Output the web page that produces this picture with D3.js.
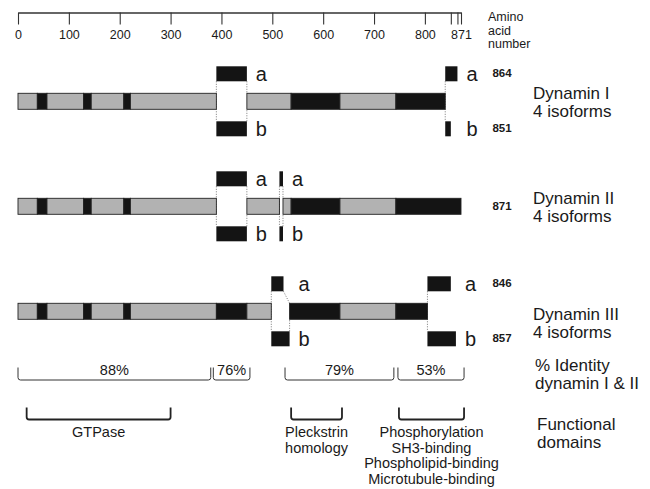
<!DOCTYPE html>
<html>
<head>
<meta charset="utf-8">
<script src="https://cdn.jsdelivr.net/npm/d3@7"></script>
<style>
body { margin: 0; background: #fff; }
svg { display: block; font-family: "Liberation Sans", Arial, Helvetica, sans-serif; }
</style>
</head>
<body>
<script>
// amino acid axis
var axisTicks = [0, 100, 200, 300, 400, 500, 600, 700, 800, 851, 864, 871];
var axisLabels = ['0', '100', '200', '300', '400', '500', '600', '700', '800', '', '', '871'];

var rowNames = ['Dynamin I', 'Dynamin II', 'Dynamin III'];
var rowSubtitles = ['4 isoforms', '4 isoforms', '4 isoforms'];

// [start, end, shade]  shade 0 = light, 1 = dark
var dyn1Segments = [[0, 38, 0], [38, 57, 1], [57, 129, 0], [129, 144, 1], [144, 208, 0], [208, 221, 1], [221, 390, 0],
	[450, 537, 0], [537, 633, 1], [633, 743, 0], [743, 840, 1]];
var dyn2Segments = [[0, 38, 0], [38, 57, 1], [57, 129, 0], [129, 144, 1], [144, 208, 0], [208, 221, 1], [221, 390, 0],
	[450, 514, 0], [521, 537, 0], [537, 633, 1], [633, 743, 0], [743, 871, 1]];
var dyn3Segments = [[0, 38, 0], [38, 57, 1], [57, 129, 0], [129, 144, 1], [144, 208, 0], [208, 221, 1], [221, 390, 0],
	[390, 450, 1], [450, 498, 0], [534, 633, 1], [633, 743, 0], [743, 805, 1]];

// alternatively spliced pieces: [start, end, isoform]
var dyn1Splice = [[390, 450, 'a'], [390, 450, 'b'], [840, 864, 'a'], [840, 851, 'b']];
var dyn2Splice = [[390, 450, 'a'], [390, 450, 'b'], [514, 521, 'a'], [514, 521, 'b']];
var dyn3Splice = [[498, 522, 'a'], [498, 534, 'b'], [805, 851, 'a'], [805, 861, 'b']];

// protein lengths per isoform
var dyn1Lengths = [['a', 864], ['b', 851]];
var dyn2Lengths = [['', 871]];
var dyn3Lengths = [['a', 846], ['b', 857]];

// % identity dynamin I & II
var identityLabels = ['88%', '76%', '79%', '53%'];
var identityStart = [0, 384, 525, 747];
var identityEnd = [379, 456, 739, 877];

// functional domains
var domainLabels = [['GTPase'], ['Pleckstrin', 'homology'],
	['Phosphorylation', 'SH3-binding', 'Phospholipid-binding', 'Microtubule-binding']];
var domainStart = [17, 537, 749];
var domainEnd = [300, 637, 877];

var rows = [
	{name: rowNames[0], sub: rowSubtitles[0], segs: dyn1Segments, splice: dyn1Splice, lengths: dyn1Lengths, labelDy: -2},
	{name: rowNames[1], sub: rowSubtitles[1], segs: dyn2Segments, splice: dyn2Splice, lengths: dyn2Lengths, labelDy: -2},
	{name: rowNames[2], sub: rowSubtitles[2], segs: dyn3Segments, splice: dyn3Splice, lengths: dyn3Lengths, labelDy: 9}
];

var width = 650, height = 489;
var light = '#b2b2b2', dark = '#141414', ink = '#1a1a1a';
var barH = 16, boxH = 15, boxGap = 12;

var svg = d3.select('body').append('svg')
	.attr('width', width)
	.attr('height', height);

var x = d3.scaleLinear().domain([0, 871]).range([18, 461]);
var y = d3.scalePoint().domain(rowNames).range([101.3, 311.3]);

// top axis
var axis = svg.append('g')
	.attr('transform', 'translate(0,12.5)')
	.call(d3.axisBottom(x)
		.tickValues(axisTicks)
		.tickFormat(function(d, i) { return axisLabels[i]; })
		.tickSize(12)
		.tickSizeOuter(0)
		.tickPadding(6));
axis.select('.domain').attr('stroke', '#333').attr('stroke-width', 1.3);
axis.selectAll('.tick line').attr('stroke', '#333').attr('stroke-width', 1.1);
axis.selectAll('.tick text')
	.attr('font-family', null)
	.attr('font-size', 12.5)
	.attr('fill', ink);

svg.append('text')
	.attr('font-size', 12.5)
	.attr('fill', ink)
	.selectAll('tspan').data(['Amino', 'acid', 'number'])
	.enter().append('tspan')
	.attr('x', 488)
	.attr('y', function(d, i) { return 21 + i * 13.5; })
	.text(function(d) { return d; });

rows.forEach(function(row) {
	var cy = y(row.name),
		top = cy - barH / 2,
		bottom = cy + barH / 2;
	var g = svg.append('g');

	var boxY = function(iso) { return iso == 'a' ? top - boxGap - boxH : bottom + boxGap; };

	// group splice pieces by start
	var groups = d3.groups(row.splice, function(d) { return d[0]; });
	groups.forEach(function(grp) {
		var start = grp[0], pieces = grp[1];
		var gapEnd = d3.max(pieces, function(d) { return d[1]; });
		var barAfter = row.segs.some(function(s) { return s[0] == gapEnd; });
		var dotted = g.append('g')
			.attr('stroke', '#777')
			.attr('stroke-width', 1)
			.attr('stroke-dasharray', '1,1.5')
			.attr('fill', 'none');
		dotted.append('line')
			.attr('x1', x(start)).attr('x2', x(start))
			.attr('y1', top - boxGap).attr('y2', bottom + boxGap);
		if (barAfter) {
			pieces.forEach(function(p) {
				var ya = p[2] == 'a' ? top - boxGap : bottom + boxGap;
				dotted.append('line')
					.attr('x1', x(p[1])).attr('y1', ya)
					.attr('x2', x(gapEnd)).attr('y2', p[2] == 'a' ? top : bottom);
			});
		}
		g.selectAll(null).data(pieces).enter().append('rect')
			.attr('x', function(d) { return x(d[0]); })
			.attr('width', function(d) { return x(d[1]) - x(d[0]); })
			.attr('y', function(d) { return boxY(d[2]); })
			.attr('height', boxH)
			.attr('fill', dark);
		g.selectAll(null).data(pieces).enter().append('text')
			.attr('x', x(gapEnd) + 9)
			.attr('y', function(d) { return boxY(d[2]) + boxH; })
			.attr('font-size', 20)
			.attr('fill', ink)
			.text(function(d) { return d[2]; });
	});

	g.selectAll(null).data(row.segs).enter().append('rect')
		.attr('x', function(d) { return x(d[0]); })
		.attr('width', function(d) { return x(d[1]) - x(d[0]); })
		.attr('y', top)
		.attr('height', barH)
		.attr('fill', function(d) { return d[2] ? dark : light; })
		.attr('stroke', '#222')
		.attr('stroke-width', 0.9);

	g.selectAll(null).data(row.lengths).enter().append('text')
		.attr('x', 502)
		.attr('y', function(d) { return d[0] ? boxY(d[0]) + boxH / 2 + 3.5 : cy + 4; })
		.attr('text-anchor', 'middle')
		.attr('font-size', 11.5)
		.attr('font-weight', 'bold')
		.attr('fill', ink)
		.text(function(d) { return d[1]; });

	g.append('text')
		.attr('font-size', 17)
		.attr('fill', ink)
		.selectAll('tspan').data([row.name, row.sub])
		.enter().append('tspan')
		.attr('x', 533)
		.attr('y', function(d, i) { return cy + row.labelDy + i * 17.5; })
		.text(function(d) { return d; });
});

// bracket shaped path, open at top
var bracket = function(x0, x1, y0, y1) {
	var r = 2.5;
	return 'M' + x0 + ',' + y0 + 'V' + (y1 - r) + 'Q' + x0 + ',' + y1 + ' ' + (x0 + r) + ',' + y1 +
		'H' + (x1 - r) + 'Q' + x1 + ',' + y1 + ' ' + x1 + ',' + (y1 - r) + 'V' + y0;
};

var ident = svg.append('g');
identityLabels.forEach(function(lbl, i) {
	ident.append('path')
		.attr('d', bracket(x(identityStart[i]), x(identityEnd[i]), 367.5, 380))
		.attr('fill', 'none')
		.attr('stroke', '#333')
		.attr('stroke-width', 1);
	ident.append('text')
		.attr('x', (x(identityStart[i]) + x(identityEnd[i])) / 2)
		.attr('y', 374.5)
		.attr('text-anchor', 'middle')
		.attr('font-size', 14.5)
		.attr('fill', ink)
		.text(lbl);
});
ident.append('text')
	.attr('font-size', 17)
	.attr('fill', ink)
	.selectAll('tspan').data(['% Identity', 'dynamin I & II'])
	.enter().append('tspan')
	.attr('x', 535)
	.attr('y', function(d, i) { return 371 + i * 17.5; })
	.text(function(d) { return d; });

var dom = svg.append('g');
domainLabels.forEach(function(lines, i) {
	var x0 = x(domainStart[i]), x1 = x(domainEnd[i]);
	dom.append('path')
		.attr('d', bracket(x0, x1, 407.5, 419.5))
		.attr('fill', 'none')
		.attr('stroke', '#222')
		.attr('stroke-width', 1.8);
	dom.append('text')
		.attr('text-anchor', 'middle')
		.attr('font-size', 14.5)
		.attr('fill', ink)
		.selectAll('tspan').data(lines)
		.enter().append('tspan')
		.attr('x', (x0 + x1) / 2)
		.attr('y', function(d, i) { return 437 + i * 15.6; })
		.text(function(d) { return d; });
});
dom.append('text')
	.attr('font-size', 17)
	.attr('fill', ink)
	.selectAll('tspan').data(['Functional', 'domains'])
	.enter().append('tspan')
	.attr('x', 537)
	.attr('y', function(d, i) { return 430 + i * 17.5; })
	.text(function(d) { return d; });
</script>
</body>
</html>
